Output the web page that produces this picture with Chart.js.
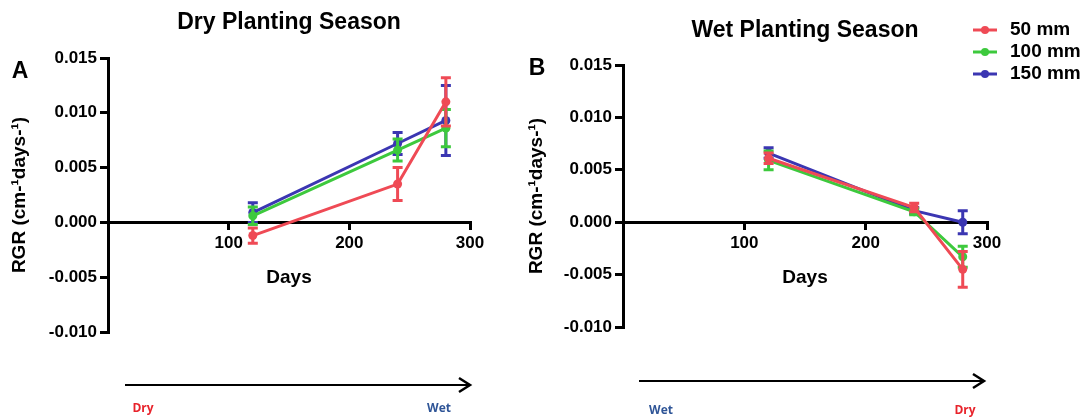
<!DOCTYPE html>
<html>
<head>
<meta charset="utf-8">
<script src="https://cdn.jsdelivr.net/npm/chart.js@4.4.1/dist/chart.umd.min.js"></script>
<style>
    html, body { margin: 0; padding: 0; background: #fff; }
    #wrap { position: relative; width: 1092px; height: 419px; overflow: hidden; }
    .panel { position: absolute; top: 0; height: 419px; }
</style>
</head>
<body>
<div id="wrap">
    <div class="panel" style="left:0;width:500px"><canvas id="chartA"></canvas></div>
    <div class="panel" style="left:500px;width:592px"><canvas id="chartB"></canvas></div>
</div>
<script>
// sampling days (x values)
const days = [120, 240, 280];
const seriesNames = ['50 mm', '100 mm', '150 mm'];
const seriesColors = ['#EF4A55', '#3DC93D', '#3B36B2'];

// Dry planting season: mean RGR and error
const dry50 = [-0.0012, 0.0035, 0.0110];
const dry50Err = [0.0007, 0.0015, 0.0022];
const dry100 = [0.0006, 0.0066, 0.0086];
const dry100Err = [0.0008, 0.0010, 0.0017];
const dry150 = [0.0009, 0.0072, 0.0093];
const dry150Err = [0.0009, 0.0010, 0.0032];

// Wet planting season
const wet50 = [0.0061, 0.0014, -0.0045];
const wet50Err = [0.0005, 0.0004, 0.0017];
const wet100 = [0.0059, 0.0010, -0.0033];
const wet100Err = [0.0009, 0.0003, 0.0010];
const wet150 = [0.0066, 0.0011, 0.0000];
const wet150Err = [0.0005, 0.0003, 0.0011];

const xTicks = [0, 100, 200, 300];
const yTicks = [-0.010, -0.005, 0.000, 0.005, 0.010, 0.015];

const FONT = '"Liberation Sans", Arial, sans-serif';
Chart.defaults.font.family = FONT;
Chart.defaults.font.weight = 'bold';
Chart.defaults.font.size = 17;
Chart.defaults.color = '#000';

// vertical error bars with caps, drawn right after each dataset
const errorBars = {
    id: 'errorBars',
    afterDatasetDraw(chart, args) {
        const ds = chart.data.datasets[args.index];
        if (!ds.errors) return;
        const xs = chart.scales.x, ys = chart.scales.y;
        const ctx = chart.ctx;
        ctx.save();
        ctx.strokeStyle = ds.borderColor;
        ctx.lineWidth = 3;
        ds.data.forEach((p, j) => {
            const px = xs.getPixelForValue(p.x);
            const top = ys.getPixelForValue(p.y + ds.errors[j]);
            const bot = ys.getPixelForValue(p.y - ds.errors[j]);
            ctx.beginPath();
            ctx.moveTo(px, top); ctx.lineTo(px, bot);
            ctx.moveTo(px - 5, top); ctx.lineTo(px + 5, top);
            ctx.moveTo(px - 5, bot); ctx.lineTo(px + 5, bot);
            ctx.stroke();
        });
        ctx.restore();
    }
};

// legend with line + dot markers, placed beside panel B
const sideLegend = {
    id: 'sideLegend',
    afterDraw(chart, args, o) {
        if (!o.show) return;
        const ctx = chart.ctx;
        ctx.save();
        ctx.font = 'bold ' + o.size + 'px ' + FONT;
        ctx.textBaseline = 'middle';
        chart.data.datasets.forEach((ds, i) => {
            const y = o.y + i * o.rowGap;
            ctx.strokeStyle = ds.borderColor;
            ctx.fillStyle = ds.borderColor;
            ctx.lineWidth = 3;
            ctx.beginPath();
            ctx.moveTo(o.x, y); ctx.lineTo(o.x + 24, y);
            ctx.stroke();
            ctx.beginPath();
            ctx.arc(o.x + 12, y, 4, 0, Math.PI * 2);
            ctx.fill();
            ctx.fillStyle = '#000';
            ctx.fillText(ds.label, o.x + 37, y);
        });
        ctx.restore();
    }
};

// panel letter, season arrow and its end labels
const panelNotes = {
    id: 'panelNotes',
    afterDraw(chart, args, o) {
        const ctx = chart.ctx;
        ctx.save();
        ctx.fillStyle = '#000';
        ctx.textAlign = 'center';
        ctx.textBaseline = 'middle';
        ctx.font = 'bold 23px ' + FONT;
        ctx.fillText(o.letter, o.letterX, o.letterY);

        ctx.strokeStyle = '#000';
        ctx.lineWidth = 2;
        ctx.beginPath();
        ctx.moveTo(o.arrowX1, o.arrowY); ctx.lineTo(o.arrowX2, o.arrowY);
        ctx.stroke();
        ctx.lineWidth = 2.5;
        ctx.beginPath();
        ctx.moveTo(o.arrowX2 - 11, o.arrowY - 7);
        ctx.lineTo(o.arrowX2, o.arrowY);
        ctx.lineTo(o.arrowX2 - 11, o.arrowY + 7);
        ctx.stroke();

        ctx.font = 'bold 12px "Open Sans", sans-serif';
        ctx.fillStyle = o.startColor;
        ctx.fillText(o.startText, o.startX, o.labelY);
        ctx.fillStyle = o.endColor;
        ctx.fillText(o.endText, o.endX, o.labelY);
        ctx.restore();
    }
};

function makeChart(id, title, series, errs, lay) {
    const datasets = series.map((vals, i) => ({
        label: seriesNames[i],
        data: days.map((d, j) => ({ x: d, y: vals[j] })),
        errors: errs[i],
        borderColor: seriesColors[i],
        backgroundColor: seriesColors[i],
        pointBackgroundColor: seriesColors[i],
        pointBorderWidth: 0,
        pointRadius: 4.5,
        borderWidth: 3,
        tension: 0
    }));

    return new Chart(document.getElementById(id), {
        type: 'line',
        data: { datasets: datasets },
        plugins: [errorBars, sideLegend, panelNotes],
        options: {
            responsive: true,
            maintainAspectRatio: false,
            animation: false,
            layout: { padding: lay.padding },
            plugins: {
                legend: { display: false },
                tooltip: { enabled: false },
                title: {
                    display: true,
                    text: title,
                    fullSize: false,
                    font: { size: 23, weight: 'bold' },
                    padding: lay.titlePad
                },
                sideLegend: lay.legend,
                panelNotes: lay.notes
            },
            scales: {
                x: {
                    type: 'linear',
                    position: { y: 0 },
                    min: 0,
                    max: 300,
                    afterBuildTicks: (s) => { s.ticks = xTicks.map(v => ({ value: v })); },
                    ticks: {
                        padding: 5,
                        callback: (v) => v === 0 ? '' : v
                    },
                    grid: {
                        display: true,
                        drawOnChartArea: false,
                        drawTicks: true,
                        tickLength: 6,
                        color: '#000',
                        lineWidth: 3
                    },
                    border: { display: true, color: '#000', width: 3 },
                    title: {
                        display: true,
                        text: 'Days',
                        font: { size: 19, weight: 'bold' },
                        padding: { top: 8, bottom: 0 }
                    }
                },
                y: {
                    type: 'linear',
                    position: 'left',
                    min: -0.010,
                    max: 0.015,
                    afterBuildTicks: (s) => { s.ticks = yTicks.map(v => ({ value: v })); },
                    afterFit: (s) => { s.width = lay.yWidth; },
                    ticks: {
                        padding: 3,
                        callback: (v) => v.toFixed(3)
                    },
                    grid: {
                        display: true,
                        drawOnChartArea: false,
                        drawTicks: true,
                        tickLength: 8,
                        color: '#000',
                        lineWidth: 3
                    },
                    border: { display: true, color: '#000', width: 3 },
                    title: {
                        display: true,
                        text: 'RGR (cm-¹days-¹)',
                        font: { size: 19, weight: 'bold' },
                        padding: { top: lay.yTitlePad, bottom: 0 }
                    }
                }
            }
        }
    });
}

makeChart('chartA', 'Dry Planting Season',
    [dry50, dry100, dry150], [dry50Err, dry100Err, dry150Err], {
        padding: { left: 0, right: 30, top: 0, bottom: 87 },
        titlePad: { top: 9.2, bottom: 21.2 },
        yWidth: 108,
        yTitlePad: 8,
        legend: { show: false },
        notes: {
            letter: 'A', letterX: 20, letterY: 72,
            arrowX1: 125, arrowX2: 470, arrowY: 385,
            startText: 'Dry', startColor: '#E8232B', startX: 143, labelY: 409,
            endText: 'Wet', endColor: '#2F5597', endX: 439
        }
    });

makeChart('chartB', 'Wet Planting Season',
    [wet50, wet100, wet150], [wet50Err, wet100Err, wet150Err], {
        padding: { left: 0, right: 105, top: 0, bottom: 92 },
        titlePad: { top: 17, bottom: 20.4 },
        yWidth: 123,
        yTitlePad: 25,
        legend: { show: true, x: 473, y: 30, rowGap: 22, size: 19 },
        notes: {
            letter: 'B', letterX: 37, letterY: 69,
            arrowX1: 139, arrowX2: 484, arrowY: 381,
            startText: 'Wet', startColor: '#2F5597', startX: 161, labelY: 411,
            endText: 'Dry', endColor: '#E8232B', endX: 465
        }
    });
</script>
</body>
</html>
